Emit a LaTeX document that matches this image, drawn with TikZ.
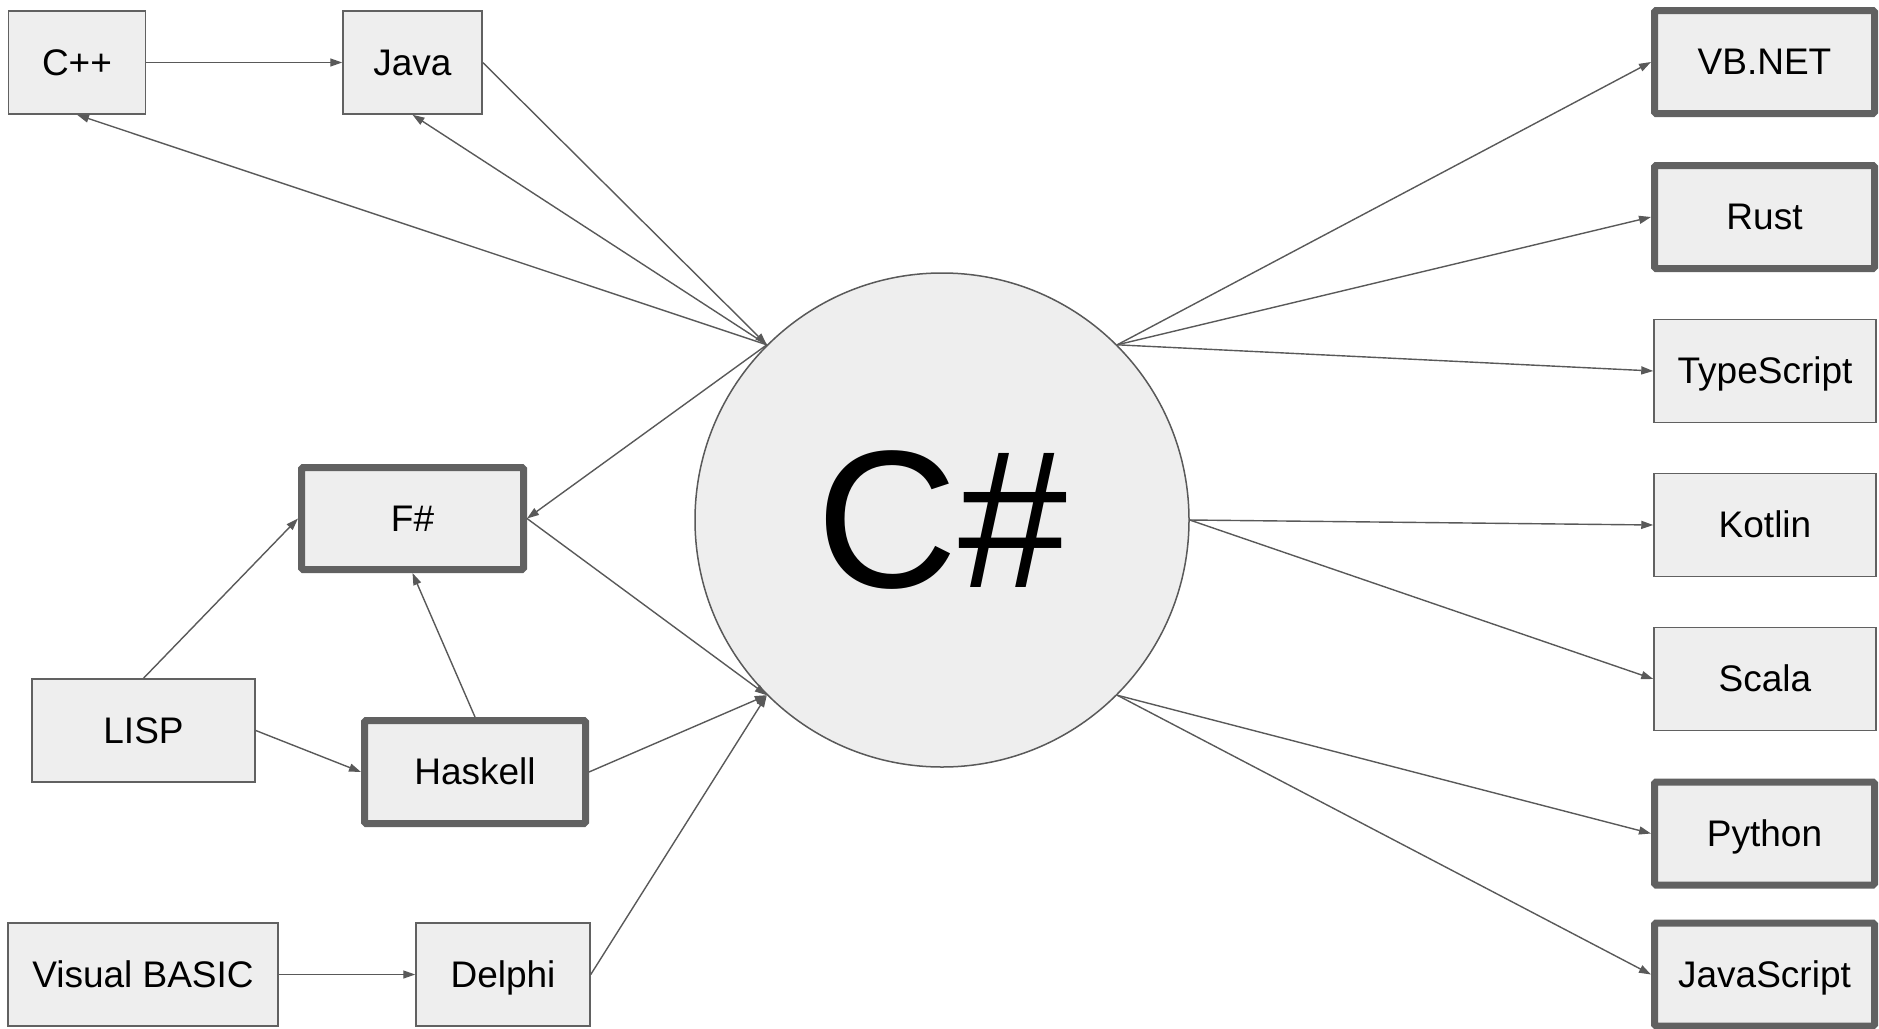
\documentclass[tikz,border=0pt]{standalone}
\usepackage{fontspec}
\setmainfont{Liberation Sans}
\usepackage{xcolor}
\usetikzlibrary{arrows.meta}
\definecolor{edgegray}{HTML}{595959}
\definecolor{boxgray}{HTML}{EEEEEE}

\begin{document}
\begin{tikzpicture}[x=1pt,y=-1pt,->,>={Triangle[length=12pt,width=8pt]},
  every edge/.append style={draw=edgegray,line width=1.4pt},
  lang/.style={rectangle,draw=edgegray!95,fill=boxgray,line width=1.5pt,minimum height=103pt,inner sep=0pt,text=black,text height=33.5pt,text depth=7.8pt,font=\fontsize{37}{44}\selectfont},
  fav/.style={lang,line width=7pt,rounded corners=1.5pt}]
\useasboundingbox (0,0) rectangle (1879,1028);
\node [circle,draw=edgegray,fill=boxgray,line width=1.5pt,minimum size=494pt,inner sep=0pt,font=\fontsize{196}{200}\selectfont] (csharp) at (942,520) {C\#};
\node [lang,minimum width=137pt] (cpp) at (77,62.5) {C++};
\node [lang,minimum width=139pt] (java) at (412.5,62.5) {Java};
\node [fav,minimum width=222pt,minimum height=102pt] (fsharp) at (412.5,518.5) {F\#};
\node [lang,minimum width=223pt] (lisp) at (143.5,730.5) {LISP};
\node [fav,minimum width=221pt] (haskell) at (475,772) {Haskell};
\node [lang,minimum width=270pt] (vbasic) at (143,974.5) {Visual BASIC};
\node [lang,minimum width=174pt] (delphi) at (503,974.5) {Delphi};
\node [fav,minimum width=220pt] (vbnet) at (1764.5,62) {VB.NET};
\node [fav,minimum width=220pt] (rust) at (1764.5,217) {Rust};
\node [lang,minimum width=222pt] (tscript) at (1765,371) {TypeScript};
\node [lang,minimum width=222pt] (kotlin) at (1765,525) {Kotlin};
\node [lang,minimum width=222pt] (scala) at (1765,679) {Scala};
\node [fav,minimum width=220pt] (python) at (1764.5,833.5) {Python};
\node [fav,minimum width=220pt] (jscript) at (1764.5,974.5) {JavaScript};
% left side
\path (cpp) edge (java);
\path (csharp.135) edge (cpp.south);
\path (csharp.135) edge (java.south);
\path (java.east) edge (csharp.135);
\path (csharp.135) edge (fsharp.east);
\path (fsharp.east) edge (csharp.225);
\path (lisp.north) edge (fsharp.west);
\path (lisp.east) edge (haskell.west);
\path (haskell.north) edge (fsharp.south);
\path (haskell.east) edge (csharp.225);
\path (vbasic) edge (delphi);
\path (delphi.east) edge (csharp.225);
% right side
\path (csharp.45) edge (vbnet.west);
\path (csharp.45) edge (rust.west);
\path (csharp.45) edge (tscript.west);
\path (csharp.east) edge (kotlin.west);
\path (csharp.east) edge (scala.west);
\path (csharp.315) edge (python.west);
\path (csharp.315) edge (jscript.west);
\end{tikzpicture}
\end{document}
